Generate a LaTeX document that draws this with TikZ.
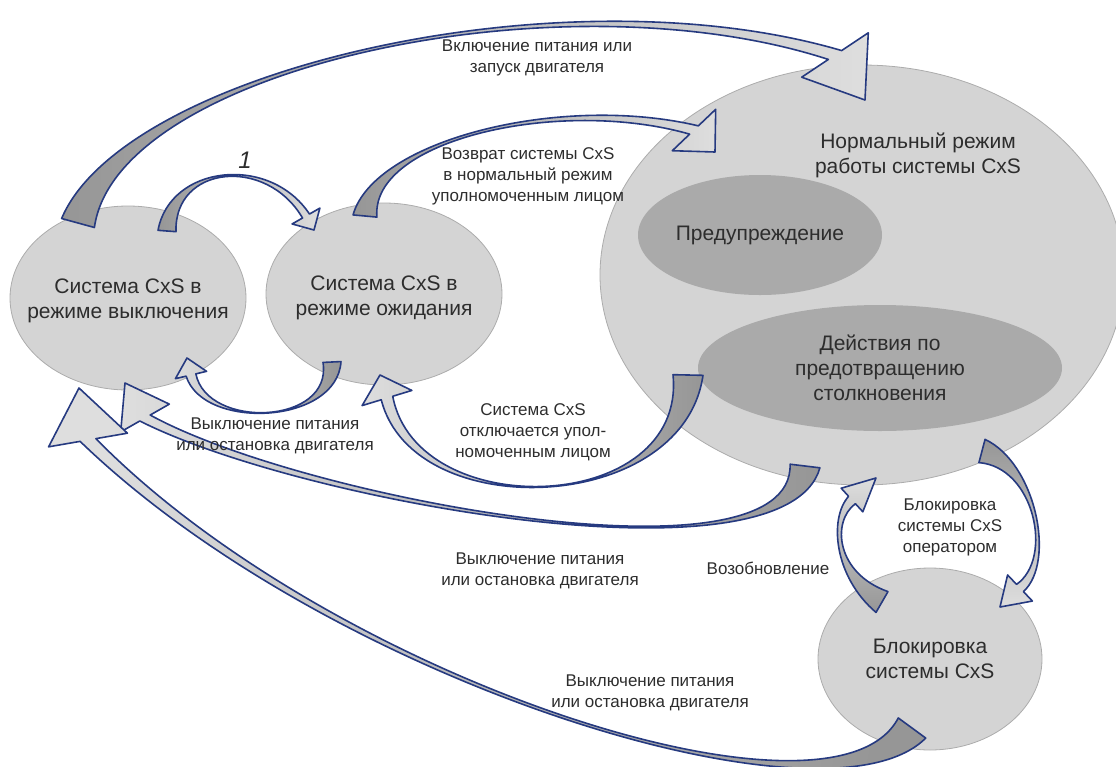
\documentclass[tikz,border=0pt]{standalone}
\usepackage{fontspec}
\setmainfont{Liberation Sans}
\usetikzlibrary{shapes.geometric,calc}

\definecolor{ellfill}{RGB}{212,212,212}
\definecolor{ellline}{RGB}{172,172,172}
\definecolor{innerfill}{RGB}{170,170,170}
\definecolor{arrowblue}{RGB}{38,58,128}
\definecolor{arrowdark}{RGB}{150,150,150}
\definecolor{arrowlight}{RGB}{222,222,222}
\definecolor{txt}{RGB}{45,45,45}

\tikzset{
  state/.style = {ellipse, fill=ellfill, draw=ellline, line width=0.4pt, inner sep=0pt},
  inner state/.style = {state, fill=innerfill, draw=none},
  statetext/.style = {text=txt, align=center, font=\fontsize{10.5}{12.5}\selectfont},
  note/.style = {text=txt, align=center, font=\fontsize{8.5}{10.5}\selectfont},
  flow/.style = {draw=arrowblue, line width=0.8pt, line join=round},
  tail w/.store in=\tailw, waist w/.store in=\waistw, mid w/.store in=\midw,
  neck w/.store in=\neckw, barb w/.store in=\barbw, shade ang/.store in=\shadeang,
  tail w=6pt, waist w=1pt, mid w=1pt, neck w=3pt, barb w=12pt, shade ang=0,
}

% #2 tail, #3 #4 controls, #5 tip, #6 from tip back to head base
\newcommand{\stateflow}[6][]{%
  \begin{scope}[#1]
    \path (#2) coordinate (t) (#3) coordinate (c1) (#4) coordinate (c2)
          (#5) coordinate (p) ($(p)+(#6)$) coordinate (hb);
    \path ($(t)!\tailw!90:(c1)$) coordinate (tl)
          ($(t)!\tailw!-90:(c1)$) coordinate (tr)
          ($(c1)!\waistw!-90:(t)$) coordinate (c1l)
          ($(c1)!\waistw!90:(t)$) coordinate (c1r)
          ($(c2)!\midw!90:(hb)$) coordinate (c2l)
          ($(c2)!\midw!-90:(hb)$) coordinate (c2r)
          ($(hb)!\neckw!90:(p)$) coordinate (hl)
          ($(hb)!\neckw!-90:(p)$) coordinate (hr)
          ($(hb)!\barbw!90:(p)$) coordinate (bl)
          ($(hb)!\barbw!-90:(p)$) coordinate (br);
    \draw[flow, top color=arrowdark, bottom color=arrowlight, shading angle=\shadeang]
      (tl) .. controls (c1l) and (c2l) .. (hl) -- (bl) -- (p) -- (br) -- (hr)
      .. controls (c2r) and (c1r) .. (tr) -- cycle;
  \end{scope}}

\begin{document}
\begin{tikzpicture}[x=0.5pt, y=-0.5pt]
\useasboundingbox (0,0) rectangle (1116,767);

\node[state, minimum width=118pt, minimum height=92pt] (off) at (128,298) {};
\node[state, minimum width=118pt, minimum height=91pt] (standby) at (384,294) {};
\node[state, minimum width=262pt, minimum height=210pt] (normal) at (862,275) {};
\node[inner state, minimum width=122pt, minimum height=60pt] (warn) at (760,235) {};
\node[inner state, minimum width=182pt, minimum height=63pt] (avoid) at (880,368) {};
\node[state, minimum width=112pt, minimum height=91pt] (block) at (930,659) {};

\node[statetext] (off text) at ($(off)+(0,3)$) {Система CxS в\\режиме выключения};
\node[statetext] (standby text) at ($(standby)+(0,4)$) {Система CxS в\\режиме ожидания};
\node[statetext] (normal text) at (918,155) {Нормальный режим\\работы системы CxS};
\node[statetext] (warn text) at (warn) {Предупреждение};
\node[statetext] (avoid text) at (avoid) {Действия по\\предотвращению\\столкновения};
\node[statetext] (block text) at (block) {Блокировка\\системы CxS};

\stateflow[tail w=8.5pt, waist w=-2pt, neck w=4pt, barb w=20pt, shade ang=90]
  {$(off)+(-50,-75)$}{120,70}{560,-30}{$(normal)+(3,-175)$}{-30,-45}
\stateflow[tail w=4.5pt, neck w=2pt, barb w=8pt, shade ang=90]
  {$(off)+(39,-67)$}{172,165}{268,155}{$(standby)+(-70,-64)$}{-8,-14}
\stateflow[tail w=6pt, waist w=-1pt, neck w=3pt, barb w=15pt, shade ang=90]
  {$(standby)+(-19,-78)$}{372,140}{560,95}{$(normal)+(-147,-123)$}{-21,-22}
\stateflow[tail w=4.5pt, neck w=2.5pt, barb w=8pt, shade ang=-90]
  {$(standby)+(-52,68)$}{335,425}{205,430}{$(off)+(59,60)$}{4,17}
\stateflow[tail w=7.5pt, waist w=-1pt, neck w=3pt, barb w=13pt, shade ang=-90]
  {$(normal)+(-174,100)$}{685,515}{415,525}{$(standby)+(-4,81)$}{7,23}
\stateflow[tail w=7.5pt, waist w=-2pt, neck w=3pt, barb w=14pt, shade ang=-90]
  {$(normal)+(-57,191)$}{790,590}{300,500}{$(off)+(-3,85)$}{20,35}
\stateflow[tail w=8.5pt, waist w=-2pt, neck w=4pt, barb w=20pt, shade ang=-100]
  {$(block)+(-18,69)$}{830,840}{330,680}{$(off)+(-49,90)$}{9,52}
\stateflow[tail w=6pt, neck w=2.5pt, barb w=8pt, shade ang=180]
  {$(block)+(-48,-57)$}{835,575}{830,520}{$(normal)+(14,203)$}{-24,22}
\stateflow[tail w=6pt, neck w=2.5pt, barb w=9pt, shade ang=0]
  {$(normal)+(120,176)$}{1035,465}{1055,560}{$(block)+(70,-52)$}{20,-19}

\node[note] (power on) at (537,58) {Включение питания или\\запуск двигателя};
\node[text=txt, font=\fontsize{12}{14}\selectfont\itshape] (one) at (245,160) {1};
\node[note] (back normal) at (528,176) {Возврат системы CxS\\в нормальный режим\\уполномоченным лицом};
\node[note] (power off a) at (275,436) {Выключение питания\\или остановка двигателя};
\node[note] (auth off) at (533,432) {Система CxS\\отключается упол-\\номоченным лицом};
\node[note] (power off b) at (540,571) {Выключение питания\\или остановка двигателя};
\node[note] (power off c) at (650,693) {Выключение питания\\или остановка двигателя};
\node[note] (resume) at (768,568) {Возобновление};
\node[note] (lock) at (950,527) {Блокировка\\системы CxS\\оператором};
\end{tikzpicture}
\end{document}
